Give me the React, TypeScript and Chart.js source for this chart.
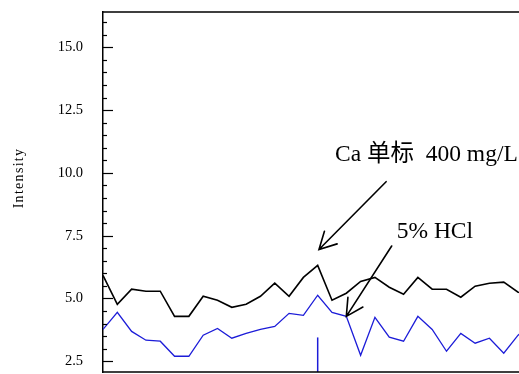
import React, { useEffect, useRef } from "react";
import { Chart, registerables } from "chart.js";

Chart.register(...registerables);

// Sample index along the run
const samples = [0, 1, 2, 3, 4, 5, 6, 7, 8, 9, 10, 11, 12, 13, 14, 15, 16, 17, 18, 19, 20, 21, 22, 23, 24, 25, 26, 27, 28, 29, 30];

// Intensity traces
const blackTrace = [5.92, 4.77, 5.37, 5.29, 5.29, 4.29, 4.29, 5.09, 4.93, 4.65, 4.77, 5.09, 5.61, 5.09, 5.84, 6.32, 4.93, 5.21, 5.68, 5.84, 5.45, 5.17, 5.84, 5.37, 5.37, 5.05, 5.49, 5.61, 5.65, 5.25, 5.2];
const blueTrace = [3.77, 4.45, 3.69, 3.34, 3.3, 2.7, 2.7, 3.54, 3.81, 3.42, 3.61, 3.77, 3.89, 4.41, 4.33, 5.13, 4.45, 4.29, 2.74, 4.25, 3.46, 3.3, 4.29, 3.77, 2.9, 3.61, 3.22, 3.42, 2.82, 3.54, 4.0];

// Injection marker (sample index, low and high intensity)
const markerSample = 15;
const markerRange = [1.9, 3.45];

// Y axis
const yMin = 2.074;
const yMax = 16.405;
const yTickValues = [2.5, 5.0, 7.5, 10.0, 12.5, 15.0];
const yMinorStep = 0.5;
const yTitle = "Intensity";

// Annotations (data coordinates)
const labelTexts = ["Ca 单标  400 mg/L", "5% HCl"];
const labelAnchors = [
  { x: 16.21, y: 10.48 },
  { x: 20.52, y: 7.41 },
];
const arrowFrom = [
  { x: 19.78, y: 9.65 },
  { x: 20.17, y: 7.09 },
];
const arrowTo = [
  { x: 15.09, y: 6.95 },
  { x: 17, y: blueTrace[17] },
];

const SERIF = '"Liberation Serif", "Times New Roman", "Noto Sans CJK SC", serif';

const framePlugin = {
  id: "frameAndNotes",
  afterDatasetsDraw(chart: any) {
    const { ctx, chartArea, scales } = chart;
    const xs = scales.x;
    const ys = scales.y;
    ctx.save();
    ctx.strokeStyle = "#000";
    ctx.fillStyle = "#000";

    // frame: top, bottom and right
    ctx.lineWidth = 1.5;
    ctx.beginPath();
    ctx.moveTo(chartArea.left, chartArea.top);
    ctx.lineTo(chartArea.right, chartArea.top);
    ctx.lineTo(chartArea.right, chartArea.bottom);
    ctx.lineTo(chartArea.left, chartArea.bottom);
    ctx.stroke();

    // inward ticks on the y axis
    ctx.lineWidth = 1.2;
    const start = Math.ceil(yMin / yMinorStep) * yMinorStep;
    for (let v = start; v <= yMax + 1e-9; v += yMinorStep) {
      const major = yTickValues.some((t) => Math.abs(t - v) < 1e-6);
      const py = Math.round(ys.getPixelForValue(v)) + 0.5;
      ctx.beginPath();
      ctx.moveTo(chartArea.left, py);
      ctx.lineTo(chartArea.left + (major ? 10 : 4), py);
      ctx.stroke();
    }

    // arrows
    ctx.lineWidth = 1.6;
    ctx.lineCap = "round";
    for (let i = 0; i < arrowFrom.length; i++) {
      const x0 = xs.getPixelForValue(arrowFrom[i].x);
      const y0 = ys.getPixelForValue(arrowFrom[i].y);
      const x1 = xs.getPixelForValue(arrowTo[i].x);
      const y1 = ys.getPixelForValue(arrowTo[i].y);
      ctx.beginPath();
      ctx.moveTo(x0, y0);
      ctx.lineTo(x1, y1);
      const ang = Math.atan2(y0 - y1, x0 - x1);
      const head = 19;
      const spread = (28 * Math.PI) / 180;
      ctx.moveTo(x1 + head * Math.cos(ang - spread), y1 + head * Math.sin(ang - spread));
      ctx.lineTo(x1, y1);
      ctx.lineTo(x1 + head * Math.cos(ang + spread), y1 + head * Math.sin(ang + spread));
      ctx.stroke();
    }

    // annotation labels
    ctx.font = `23.5px ${SERIF}`;
    ctx.textAlign = "left";
    ctx.textBaseline = "alphabetic";
    for (let i = 0; i < labelTexts.length; i++) {
      ctx.fillText(labelTexts[i], xs.getPixelForValue(labelAnchors[i].x), ys.getPixelForValue(labelAnchors[i].y));
    }

    // y axis title
    ctx.save();
    ctx.translate(19, 178);
    ctx.rotate(-Math.PI / 2);
    ctx.font = `14px ${SERIF}`;
    (ctx as any).letterSpacing = "1.3px";
    ctx.textAlign = "center";
    ctx.textBaseline = "middle";
    ctx.fillText(yTitle, 0, 0);
    ctx.restore();

    ctx.restore();
  },
};

export default function App() {
  const canvasRef = useRef<HTMLCanvasElement | null>(null);

  useEffect(() => {
    if (!canvasRef.current) return;
    const chart = new Chart(canvasRef.current, {
      type: "line",
      data: {
        datasets: [
          {
            label: "black",
            data: samples.map((s, i) => ({ x: s, y: blackTrace[i] })),
            borderColor: "#000000",
            borderWidth: 1.6,
            pointRadius: 0,
            tension: 0,
          },
          {
            label: "blue",
            data: samples.map((s, i) => ({ x: s, y: blueTrace[i] })),
            borderColor: "#1c1cd8",
            borderWidth: 1.3,
            pointRadius: 0,
            tension: 0,
          },
          {
            label: "marker",
            data: markerRange.map((v) => ({ x: markerSample, y: v })),
            borderColor: "#1c1cd8",
            borderWidth: 1.5,
            pointRadius: 0,
          },
        ],
      },
      options: {
        responsive: false,
        animation: false,
        devicePixelRatio: 1,
        layout: { padding: { left: 0, top: 12, right: 0, bottom: 28 } },
        plugins: { legend: { display: false }, tooltip: { enabled: false } },
        scales: {
          x: {
            type: "linear",
            min: 0,
            max: 32,
            display: false,
          },
          y: {
            type: "linear",
            min: yMin,
            max: yMax,
            afterBuildTicks: (scale: any) => {
              scale.ticks = yTickValues.map((v) => ({ value: v }));
            },
            afterFit: (scale: any) => {
              scale.width = 103;
              scale.paddingTop = 0;
              scale.paddingBottom = 0;
            },
            grid: { display: false, drawTicks: false },
            border: { display: true, color: "#000", width: 1.5 },
            ticks: {
              padding: 20,
              color: "#000",
              font: { family: SERIF, size: 14.5 },
              callback: (v: any) => Number(v).toFixed(1),
            },
          },
        },
      },
      plugins: [framePlugin],
    });
    return () => chart.destroy();
  }, []);

  return (
    <div style={{ position: "fixed", left: 0, top: 0, width: 519, height: 374, overflow: "hidden", background: "#fff" }}>
      <canvas ref={canvasRef} width={561} height={400} style={{ display: "block" }} />
    </div>
  );
}
